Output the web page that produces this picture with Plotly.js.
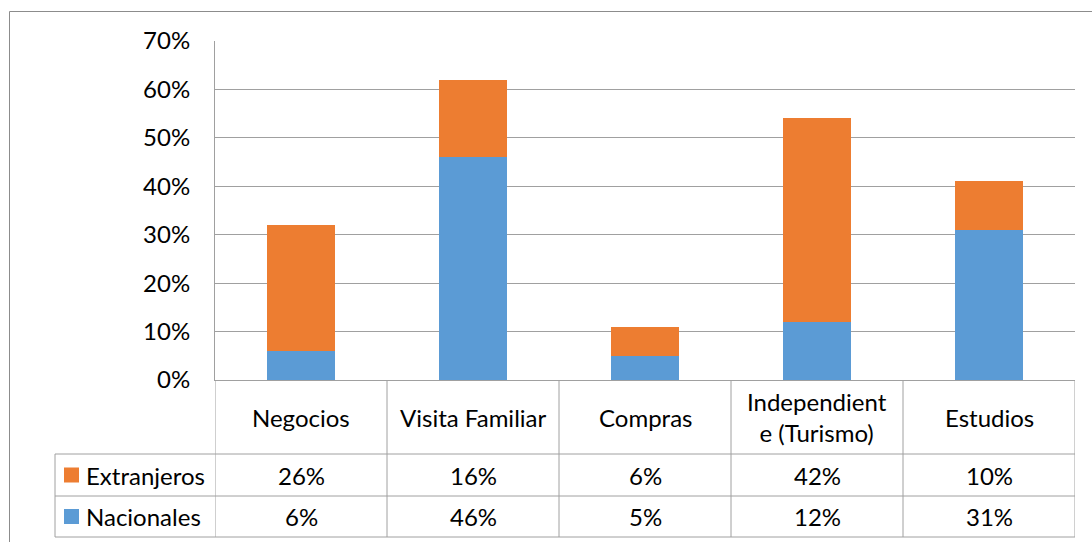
<!DOCTYPE html>
<html>
<head>
<meta charset="utf-8">
<script src="https://cdn.plot.ly/plotly-3.0.1.min.js"></script>
<style>html,body{margin:0;padding:0;background:#fff;}#chart{width:1092px;height:542px;}</style>
</head>
<body>
<div id="chart"></div>
<script>
const categories = ["Negocios", "Visita Familiar", "Compras", "Independient<br>e (Turismo)", "Estudios"];
const seriesNames = ["Extranjeros", "Nacionales"];
const nacionales = [0.06, 0.46, 0.05, 0.12, 0.31];
const extranjeros = [0.26, 0.16, 0.06, 0.42, 0.10];
const colorNac = "#5B9BD5";
const colorExt = "#ED7D31";

const W = 1092, H = 542;
const px = x => x / W;
const py = y => 1 - y / H;
const FONT = "Lato, Carlito, Calibri, sans-serif";
const LINE = "#A0A0A0";
const idx = categories.map((_, i) => i);
const pct = v => Math.round(v * 100) + "%";

const traces = [
  {type: "bar", name: seriesNames[1], x: idx, y: nacionales, marker: {color: colorNac}, hoverinfo: "skip"},
  {type: "bar", name: seriesNames[0], x: idx, y: extranjeros, marker: {color: colorExt}, hoverinfo: "skip"}
];

const shapes = [];
const annotations = [];
const line = (xref, x0, x1, y0, y1) => shapes.push({type: "line", xref: xref, yref: "paper", x0: x0, x1: x1, y0: py(y0), y1: py(y1), line: {color: LINE, width: 1}});

// outer chart border
shapes.push({type: "rect", xref: "paper", yref: "paper", x0: px(9.5), x1: 1.01, y0: -0.01, y1: py(11.5), line: {color: "#8C8C8C", width: 1}, layer: "below"});

// horizontal table lines
[454, 496, 537].forEach(y => line("paper", px(55), px(1075), y, y));
// vertical table lines
line("paper", px(55), px(55), 454, 537);
for (let i = 0; i <= categories.length; i++) {
  line("x", i - 0.5, i - 0.5, 380, 537);
}

// category labels
categories.forEach((c, i) => annotations.push({xref: "x", yref: "paper", x: i, y: py(417), text: c, showarrow: false, xanchor: "center", yanchor: "middle", font: {family: FONT, size: 24, color: "#000"}}));

// data rows
const rows = [
  {name: seriesNames[0], vals: extranjeros, color: colorExt, yc: 475},
  {name: seriesNames[1], vals: nacionales, color: colorNac, yc: 516.5}
];
rows.forEach(r => {
  shapes.push({type: "rect", xref: "paper", yref: "paper", x0: px(64), x1: px(79), y0: py(r.yc + 7.5), y1: py(r.yc - 7.5), fillcolor: r.color, line: {width: 0}});
  annotations.push({xref: "paper", yref: "paper", x: px(84), y: py(r.yc), text: r.name, showarrow: false, xanchor: "left", yanchor: "middle", font: {family: FONT, size: 24, color: "#000"}});
  r.vals.forEach((v, i) => annotations.push({xref: "x", yref: "paper", x: i, y: py(r.yc), text: pct(v), showarrow: false, xanchor: "center", yanchor: "middle", font: {family: FONT, size: 24, color: "#000"}}));
});

const layout = {
  width: W, height: H,
  margin: {l: 0, r: 0, t: 0, b: 0},
  paper_bgcolor: "#fff", plot_bgcolor: "#fff",
  barmode: "stack", bargap: 0.6, showlegend: false,
  xaxis: {domain: [px(215), px(1075)], range: [-0.5, categories.length - 0.5], showticklabels: false, showgrid: false, zeroline: false, showline: true, linecolor: LINE, linewidth: 1, fixedrange: true},
  yaxis: {domain: [py(380), py(41)], range: [0, 0.7], dtick: 0.1, tickformat: ".0%", showgrid: true, gridcolor: LINE, gridwidth: 1, zeroline: false, showline: true, linecolor: LINE, linewidth: 1, ticks: "", ticklabelstandoff: 19, tickfont: {family: FONT, size: 24, color: "#000"}, fixedrange: true},
  shapes: shapes,
  annotations: annotations
};

Plotly.newPlot("chart", traces, layout, {displayModeBar: false, staticPlot: true});
</script>
</body>
</html>
